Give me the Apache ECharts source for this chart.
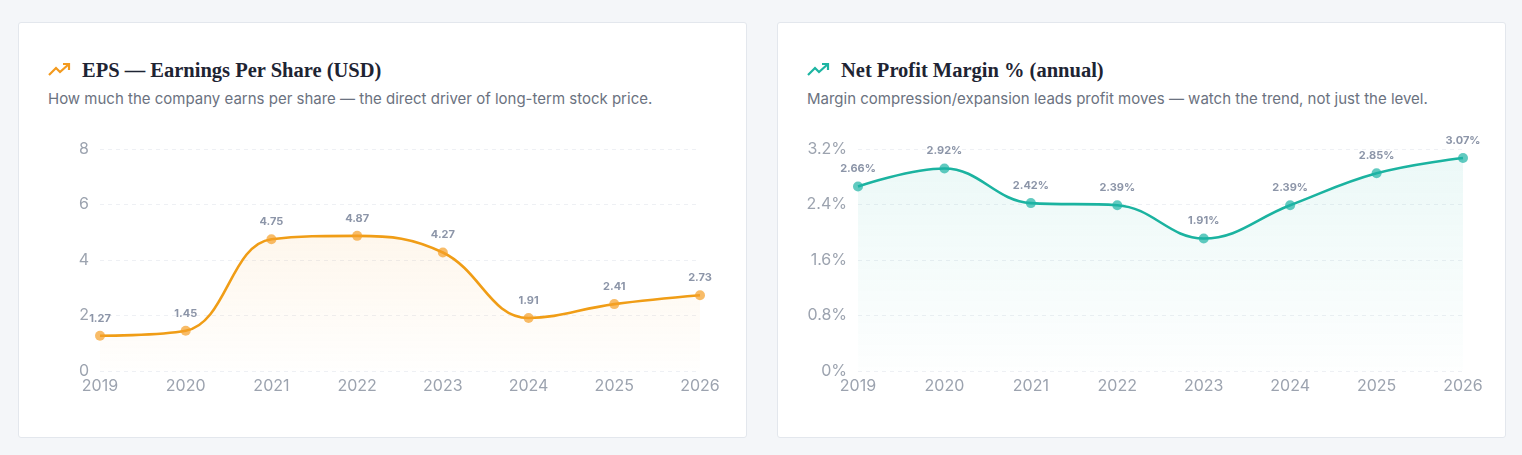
<!DOCTYPE html>
<html>
<head>
<meta charset="utf-8">
<script src="https://cdn.jsdelivr.net/npm/echarts@6/dist/echarts.min.js"></script>
<style>
  html, body { margin: 0; padding: 0; background: #f4f6f9; width: 1522px; height: 455px; overflow: hidden; }
  .card { position: absolute; top: 22px; width: 729px; height: 416px; background: #fff;
          border: 1px solid #e3e7ed; border-radius: 3px; box-sizing: border-box; }
  .head { position: absolute; left: 29px; top: 34px; }
  .title { font-family: "Liberation Serif", "DejaVu Serif", serif; font-weight: bold; font-size: 20.5px;
           color: #1e2433; display: flex; align-items: center; height: 26px; }
  .title svg { margin-right: 10px; }
  .sub { font-family: Inter, "Noto Sans", sans-serif; font-size: 15px; color: #6b7280; margin-top: 6px; }
  .chart { position: absolute; top: 98px; height: 300px; }
</style>
</head>
<body>
<div class="card" style="left:18px">
  <div class="head">
    <div class="title"><svg width="24" height="16" viewBox="0 0 24 16"><polyline points="1,13 8,6 12,10 21,2" fill="none" stroke="#f39a1e" stroke-width="2.2"/><polyline points="15,2 21,2 21,8" fill="none" stroke="#f39a1e" stroke-width="2.2"/></svg>EPS — Earnings Per Share (USD)</div>
    <div class="sub">How much the company earns per share — the direct driver of long-term stock price.</div>
  </div>
  <div id="c1" class="chart" style="left:29px;width:690px"></div>
</div>
<div class="card" style="left:777px">
  <div class="head">
    <div class="title"><svg width="24" height="16" viewBox="0 0 24 16"><polyline points="1,13 8,6 12,10 21,2" fill="none" stroke="#1db5a2" stroke-width="2.2"/><polyline points="15,2 21,2 21,8" fill="none" stroke="#1db5a2" stroke-width="2.2"/></svg>Net Profit Margin % (annual)</div>
    <div class="sub">Margin compression/expansion leads profit moves — watch the trend, not just the level.</div>
  </div>
  <div id="c2" class="chart" style="left:29px;width:690px"></div>
</div>
<script>
var years = ['2019', '2020', '2021', '2022', '2023', '2024', '2025', '2026']
var epsValues = [1.27, 1.45, 4.75, 4.87, 4.27, 1.91, 2.41, 2.73]
var marginValues = [2.66, 2.92, 2.42, 2.39, 1.91, 2.39, 2.85, 3.07]
var epsTicks = { min: 0, max: 8, interval: 2 }
var marginTicks = { min: 0, max: 3.2, interval: 0.8 }

function makeOption(values, ticks, color, rgb, suffix, gridLeft, gridRight) {
  return {
    animation: false,
    grid: { left: gridLeft, right: gridRight, top: 28, bottom: 50, outerBoundsMode: 'none' },
    xAxis: {
      type: 'category',
      boundaryGap: false,
      data: years,
      axisLine: { show: false },
      axisTick: { show: false },
      axisLabel: { color: '#9ca3af', fontSize: 16, fontFamily: 'Inter', margin: 7 }
    },
    yAxis: {
      type: 'value',
      min: ticks.min,
      max: ticks.max,
      interval: ticks.interval,
      axisLabel: {
        color: '#9ca3af', fontSize: 16, fontFamily: 'Inter', margin: 11,
        formatter: function (v) { return +v.toFixed(1) + suffix }
      },
      splitLine: { lineStyle: { color: '#eef0f4', type: [4, 4] } }
    },
    series: [{
      type: 'line',
      data: values,
      smooth: 0.4,
      symbol: 'circle',
      symbolSize: 10,
      itemStyle: { color: 'rgba(' + rgb + ',0.7)' },
      lineStyle: { color: color, width: 2.6 },
      areaStyle: {
        color: new echarts.graphic.LinearGradient(0, 0, 0, 1, [
          { offset: 0, color: 'rgba(' + rgb + ',0.12)' },
          { offset: 1, color: 'rgba(' + rgb + ',0.01)' }
        ])
      },
      label: {
        show: true,
        position: 'top',
        distance: 7,
        color: '#8c95a8',
        fontSize: 11,
        fontWeight: 'bold',
        fontFamily: 'Inter',
        formatter: function (p) { return p.value.toFixed(2) + suffix }
      }
    }]
  }
}

var chart1 = echarts.init(document.getElementById('c1'))
chart1.setOption(makeOption(epsValues, epsTicks, '#f09d16', '245,160,40', '', 52, 38))
var chart2 = echarts.init(document.getElementById('c2'))
chart2.setOption(makeOption(marginValues, marginTicks, '#1bb3a0', '30,180,165', '%', 51, 34))
</script>
</body>
</html>
